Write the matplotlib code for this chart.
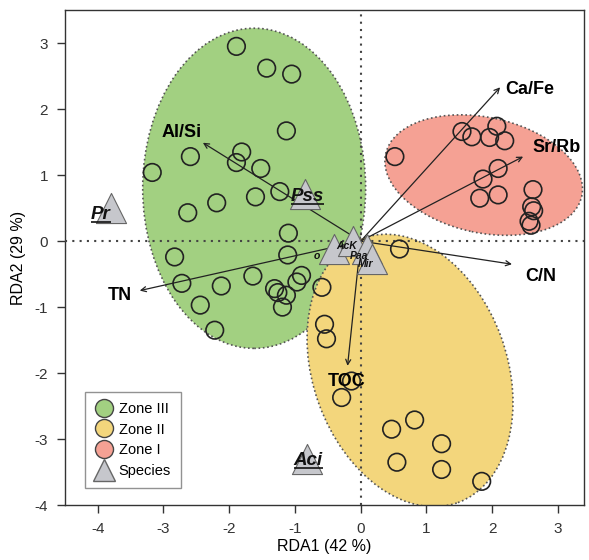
import matplotlib
matplotlib.use("Agg")
import matplotlib.pyplot as plt
from matplotlib.patches import Ellipse
from matplotlib.lines import Line2D

plt.rcParams['font.family'] = ['Liberation Sans', 'DejaVu Sans']
plt.rcParams['axes.unicode_minus'] = False

# --- site scores (RDA1, RDA2) per zone ---
zone3_x = [-1.89, -1.43, -1.05, -1.13, -2.59, -1.81, -1.89, -1.52, -3.17, -1.23,
           -1.60, -2.19, -2.63, -1.10, -1.11, -2.83, -1.64, -2.72, -2.12, -0.90,
           -0.97, -1.31, -1.26, -1.13, -0.59, -2.44, -1.19, -2.22]
zone3_y = [2.95, 2.62, 2.53, 1.67, 1.28, 1.35, 1.19, 1.10, 1.04, 0.75,
           0.67, 0.58, 0.43, 0.12, -0.21, -0.24, -0.53, -0.64, -0.68, -0.52,
           -0.62, -0.72, -0.78, -0.82, -0.70, -0.97, -1.00, -1.35]

zone2_x = [-0.55, -0.52, -0.14, -0.29, 0.82, 0.47, 1.23, 0.55, 1.23, 1.84, 0.59]
zone2_y = [-1.26, -1.48, -2.12, -2.37, -2.71, -2.85, -3.07, -3.35, -3.46, -3.64, -0.12]

zone1_x = [0.52, 1.54, 1.69, 2.07, 1.96, 2.19, 2.09, 1.86, 1.81, 2.09,
           2.62, 2.60, 2.63, 2.56, 2.59]
zone1_y = [1.28, 1.66, 1.58, 1.74, 1.57, 1.52, 1.10, 0.94, 0.65, 0.70,
           0.78, 0.52, 0.46, 0.30, 0.24]

# --- environmental vectors ---
env_names = ['Ca/Fe', 'Sr/Rb', 'C/N', 'TOC', 'TN', 'Al/Si']
env_x = [2.12, 2.47, 2.30, -0.20, -3.36, -2.40]
env_y = [2.33, 1.28, -0.35, -1.89, -0.75, 1.49]
env_lab_x = [2.57, 2.98, 2.74, -0.21, -3.67, -2.72]
env_lab_y = [2.30, 1.42, -0.53, -2.12, -0.82, 1.64]

# --- species ---
sp_names = ['Pr', 'Pss', 'Aci', 'o', 'AcK', 'Paa', 'Mir']
sp_x = [-3.80, -0.85, -0.82, -0.40, -0.12, 0.10, 0.17]
sp_y = [0.50, 0.71, -3.30, -0.12, 0.00, -0.12, -0.27]
sp_lab_x = [-3.95, -0.81, -0.80, -0.67, -0.21, -0.02, 0.07]
sp_lab_y = [0.40, 0.67, -3.33, -0.23, -0.07, -0.22, -0.35]
sp_big = [True, True, True, False, False, False, False]

green = '#a2d081'
yellow = '#f3d67c'
red = '#f5a194'
tri_face = '#c6c7cc'

fig = plt.figure(figsize=(5.89, 5.6), dpi=100)
ax = fig.add_axes([0.110, 0.098, 0.882, 0.884])

dotted = (0, (1, 1.6))
ax.add_patch(Ellipse((-1.62, 0.80), 3.39, 4.85, angle=0, facecolor=green,
                     edgecolor='#555555', linestyle=dotted, lw=1.2, zorder=1))
ax.add_patch(Ellipse((1.87, 1.0), 3.05, 1.75, angle=-12, facecolor=red,
                     edgecolor='#555555', linestyle=dotted, lw=1.2, zorder=1))
ax.add_patch(Ellipse((0.75, -1.96), 2.95, 4.26, angle=20, facecolor=yellow,
                     edgecolor='#555555', linestyle=dotted, lw=1.2, zorder=2))

ax.axhline(0, color='#444444', ls=(0, (1, 2.5)), lw=1.5, zorder=3)
ax.axvline(0, color='#444444', ls=(0, (1, 2.5)), lw=1.5, zorder=3)

for xs, ys in [(zone3_x, zone3_y), (zone2_x, zone2_y), (zone1_x, zone1_y)]:
    ax.scatter(xs, ys, s=160, facecolors='none', edgecolors='#222222',
               linewidths=1.2, zorder=4)

for name, x, y, lx, ly in zip(env_names, env_x, env_y, env_lab_x, env_lab_y):
    ax.annotate('', xy=(x, y), xytext=(0, 0),
                arrowprops=dict(arrowstyle='->', color='#222222', lw=0.9,
                                shrinkA=0, shrinkB=0, mutation_scale=9),
                zorder=5)
    ax.text(lx, ly, name, fontsize=13, fontweight='bold', ha='center',
            va='center', zorder=8)

ax.scatter(sp_x, sp_y, marker='^', s=470, facecolor=tri_face,
           edgecolor='#666666', linewidths=0.8, zorder=6)

underlined = []
for name, lx, ly, big in zip(sp_names, sp_lab_x, sp_lab_y, sp_big):
    t = ax.text(lx, ly, name, fontsize=13.5 if big else 7.5, fontweight='bold',
                fontstyle='italic', ha='center', va='center', zorder=7,
                color='#111111')
    if big:
        underlined.append(t)

ax.set_xlim(-4.5, 3.4)
ax.set_ylim(-4, 3.5)
ax.set_xticks(range(-4, 4))
ax.set_yticks(range(-4, 4))
for s in ['left', 'bottom', 'top', 'right']:
    ax.spines[s].set_color('#333333')
    ax.spines[s].set_linewidth(1.0)
ax.tick_params(direction='out', length=6, width=1, labelsize=11,
               colors='#333333', pad=6)
ax.set_xlabel('RDA1 (42 %)', fontsize=11.5, labelpad=2)
ax.set_ylabel('RDA2 (29 %)', fontsize=11.5, labelpad=6)

handles = [
    Line2D([], [], marker='o', ls='', markersize=13, markerfacecolor=green,
           markeredgecolor='#444444', label='Zone III'),
    Line2D([], [], marker='o', ls='', markersize=13, markerfacecolor=yellow,
           markeredgecolor='#444444', label='Zone II'),
    Line2D([], [], marker='o', ls='', markersize=13, markerfacecolor=red,
           markeredgecolor='#444444', label='Zone I'),
    Line2D([], [], marker='^', ls='', markersize=16, markerfacecolor=tri_face,
           markeredgecolor='#666666', label='Species'),
]
leg = ax.legend(handles=handles, loc='lower left', bbox_to_anchor=(0.025, 0.02),
                fontsize=10.5, frameon=True, fancybox=False, handletextpad=0.4,
                labelspacing=0.45, borderpad=0.7, handlelength=1.2)
leg.get_frame().set_edgecolor('#777777')
leg.get_frame().set_linewidth(1.0)

# underline the main species labels
fig.canvas.draw()
renderer = fig.canvas.get_renderer()
inv = ax.transData.inverted()
for t in underlined:
    bb = t.get_window_extent(renderer)
    (x0, y0), (x1, _) = inv.transform([(bb.x0, bb.y0 + 1), (bb.x1, bb.y0 + 1)])
    ax.plot([x0, x1], [y0, y0], color='#111111', lw=1.2, zorder=7,
            solid_capstyle='butt')

fig.savefig('out.png', dpi=100)
